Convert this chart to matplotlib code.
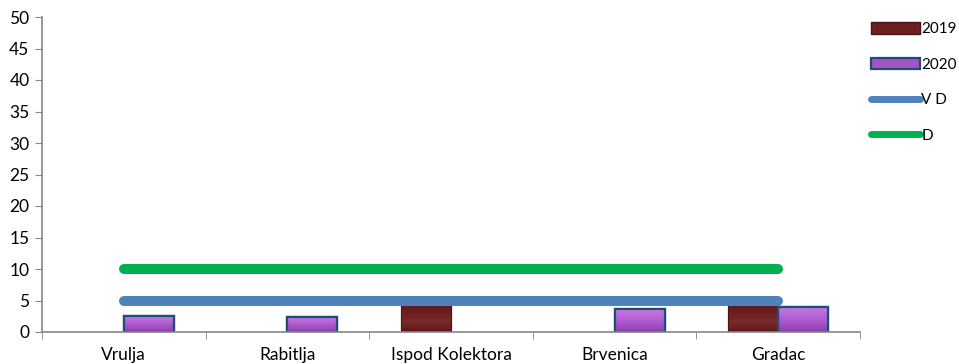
import numpy as np
import matplotlib
matplotlib.use('Agg')
import matplotlib.pyplot as plt
from matplotlib.patches import Patch
from matplotlib.lines import Line2D
from matplotlib.colors import LinearSegmentedColormap

# data
locations = ['Vrulja', 'Rabitlja', 'Ispod Kolektora', 'Brvenica', 'Gradac']
val_2019 = [0, 0, 4.6, 0, 4.6]
val_2020 = [2.6, 2.4, 0, 3.6, 4.0]
vd_level = [5, 5, 5, 5, 5]
d_level = [10, 10, 10, 10, 10]
yticks = [0, 5, 10, 15, 20, 25, 30, 35, 40, 45, 50]

plt.rcParams['font.family'] = ['Lato', 'DejaVu Sans']
plt.rcParams['font.size'] = 12.5

fig = plt.figure(figsize=(9.59, 3.64), dpi=100)
ax = fig.add_axes([42/959, 32/364, (860-42)/959, (332-17)/364])

x = np.arange(len(locations))
w = 0.306

cm19 = LinearSegmentedColormap.from_list('c19', ['#5a1818', '#7a2a2a', '#6b2020', '#5e1a1a'])
cm20 = LinearSegmentedColormap.from_list('c20', ['#8e3fae', '#a552c6', '#b966d8', '#c77ae4'])

def draw_bars(pos, vals, cmap, face, edge, lw):
    for xp, v in zip(pos, vals):
        if v <= 0:
            continue
        b = ax.bar(xp, v, w, color=face, edgecolor=edge, linewidth=lw, zorder=2)[0]
        grad = np.linspace(0, 1, 64).reshape(-1, 1)
        im = ax.imshow(grad, cmap=cmap, origin='lower', aspect='auto',
                       extent=[xp - w/2, xp + w/2, 0, v], zorder=2.1)
        im.set_clip_path(b)
        ax.bar(xp, v, w, color='none', edgecolor=edge, linewidth=lw, zorder=2.2)

draw_bars(x - w/2, val_2019, cm19, '#6b1f1f', '#4a1414', 0.8)
draw_bars(x + w/2, val_2020, cm20, '#a653c4', '#1f4e79', 1.6)

ax.plot(x, vd_level, color='#4f81bd', linewidth=7.2, solid_capstyle='round', zorder=3)
ax.plot(x, d_level, color='#00b050', linewidth=7.2, solid_capstyle='round', zorder=3)

ax.set_xlim(-0.5, len(locations) - 0.5)
ax.set_ylim(0, 50)
ax.set_yticks(yticks)
ax.set_xticks(x)
ax.set_xticklabels(locations)
ax.set_xticks(np.arange(len(locations) + 1) - 0.5, minor=True)
ax.tick_params(axis='x', which='major', length=0, pad=10.5)
ax.tick_params(axis='x', which='minor', length=5, color='#868686', direction='out')
ax.tick_params(axis='y', length=5, color='#868686', direction='out', pad=4)

for side in ['top', 'right']:
    ax.spines[side].set_visible(False)
for side in ['left', 'bottom']:
    ax.spines[side].set_color('#868686')
    ax.spines[side].set_linewidth(1.2)

handles = [Patch(facecolor='#6b1f1f', edgecolor='#4a1414'),
           Patch(facecolor='#a653c4', edgecolor='#1f4e79', linewidth=1.6),
           Line2D([], [], color='#4f81bd', linewidth=5, solid_capstyle='round'),
           Line2D([], [], color='#00b050', linewidth=5, solid_capstyle='round')]
fig.legend(handles, ['2019', '2020', 'V D', 'D'], loc='upper left',
           bbox_to_anchor=(868/959, 1 - 19/364), frameon=False,
           prop={'size': 11},
           handlelength=3.2, handletextpad=0.1, labelspacing=1.4,
           handleheight=0.8, borderpad=0.2, borderaxespad=0)

fig.savefig('out.png', dpi=100)
